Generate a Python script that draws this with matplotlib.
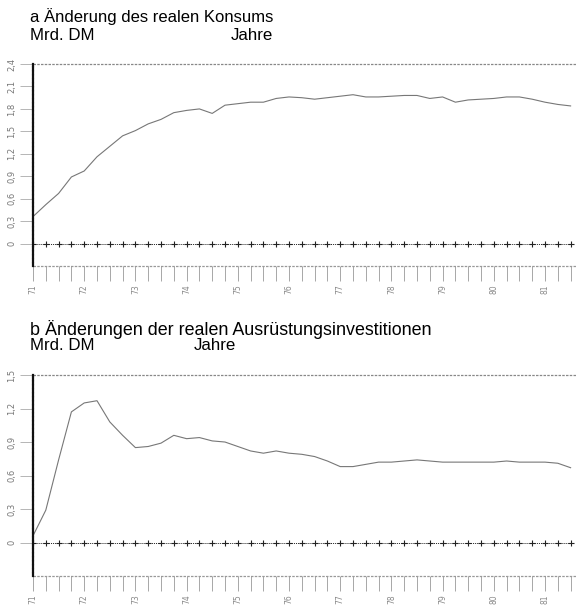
import matplotlib
matplotlib.use("Agg")
import matplotlib.pyplot as plt
import numpy as np

# quarterly values, starting 1971 Q1
konsum = [0.36, 0.52, 0.67, 0.89, 0.97, 1.16, 1.30, 1.44, 1.51, 1.60,
          1.66, 1.75, 1.78, 1.80, 1.74, 1.85, 1.87, 1.89, 1.89, 1.94,
          1.96, 1.95, 1.93, 1.95, 1.97, 1.99, 1.96, 1.96, 1.97, 1.98,
          1.98, 1.94, 1.96, 1.89, 1.92, 1.93, 1.94, 1.96, 1.96, 1.93,
          1.89, 1.86, 1.84]
ausruestung = [0.06, 0.29, 0.74, 1.17, 1.25, 1.27, 1.08, 0.96, 0.85, 0.86,
               0.89, 0.96, 0.93, 0.94, 0.91, 0.90, 0.86, 0.82, 0.80, 0.82,
               0.80, 0.79, 0.77, 0.73, 0.68, 0.68, 0.70, 0.72, 0.72, 0.73,
               0.74, 0.73, 0.72, 0.72, 0.72, 0.72, 0.72, 0.73, 0.72, 0.72,
               0.72, 0.71, 0.67]
years = list(range(71, 82))
yticks_a = [0, 0.3, 0.6, 0.9, 1.2, 1.5, 1.8, 2.1, 2.4]
yticks_b = [0, 0.3, 0.6, 0.9, 1.2, 1.5]

quarters = 71 + np.arange(len(konsum)) / 4


def fmt(v):
    return "0" if v == 0 else f"{v:.1f}".replace(".", ",")


def panel(ax, values, yticks):
    ymin, ymax = -0.3, yticks[-1]
    ax.set_xlim(71, 81.625)
    ax.set_ylim(ymin, ymax)
    for s in ["top", "right", "bottom"]:
        ax.spines[s].set_visible(False)
    ax.spines["left"].set_linestyle((0, (1, 0.8)))
    ax.spines["left"].set_linewidth(1.6)
    ax.spines["left"].set_color("#111111")
    ax.axhline(ymax, color="#888888", lw=0.9, ls=(0, (2, 1)), clip_on=False)
    ax.axhline(ymin, color="#999999", lw=0.9, ls=(0, (2, 1)), clip_on=False)
    ax.plot(quarters, np.zeros(len(quarters)), color="#222222", lw=0.7,
            ls=(0, (1, 1)), marker="+", ms=4, mew=0.8)
    ax.plot(quarters, values, color="#777777", lw=0.8)

    ax.set_yticks(yticks)
    ax.set_yticklabels([fmt(v) for v in yticks], rotation=90, va="center",
                       fontsize=6, color="#777777")
    ax.tick_params(axis="y", length=9.4, width=0.6, color="#aaaaaa", pad=2.5)

    ax.set_xticks(years)
    ax.set_xticklabels([str(y) for y in years], rotation=90, fontsize=5.5,
                       color="#888888")
    ax.set_xticks(quarters, minor=True)
    ax.tick_params(axis="x", which="both", length=10.8, width=0.6,
                   color="#999999", pad=2.5)


fig = plt.figure(figsize=(5.77, 6.10), dpi=100)
ax1 = fig.add_axes([0.0572, 0.564, 0.9428, 0.331])
ax2 = fig.add_axes([0.0572, 0.0557, 0.9428, 0.3295])
panel(ax1, konsum, yticks_a)
panel(ax2, ausruestung, yticks_b)

tfont = dict(family="Liberation Sans", fontsize=12.2, color="black")
fig.text(30 / 577, 1 - 22 / 610, "a Änderung des realen Konsums",
         family="Liberation Sans", fontsize=12.0)
fig.text(30 / 577, 1 - 40 / 610, "Mrd. DM", **tfont)
fig.text(231 / 577, 1 - 40 / 610, "Jahre", **tfont)
fig.text(30 / 577, 1 - 335 / 610,
         "b Änderungen der realen Ausrüstungsinvestitionen",
         family="Liberation Sans", fontsize=12.9)
fig.text(30 / 577, 1 - 350 / 610, "Mrd. DM", **tfont)
fig.text(194 / 577, 1 - 350 / 610, "Jahre", **tfont)

fig.savefig("out.png", dpi=100)
